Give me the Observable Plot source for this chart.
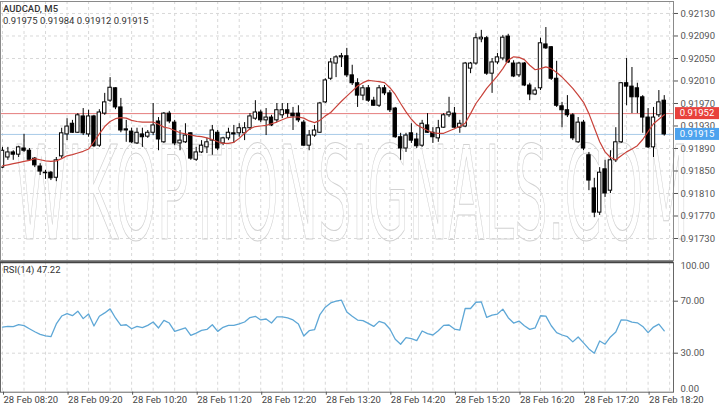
<!DOCTYPE html>
<html><head><meta charset="utf-8">
<script src="https://cdn.jsdelivr.net/npm/d3@7"></script>
<script src="https://cdn.jsdelivr.net/npm/@observablehq/plot@0.6"></script>
<style>
body{margin:0;background:#fff;}
#wrap{position:relative;width:720px;height:405px;overflow:hidden;font-family:Roboto,sans-serif;background:#fff;}
.lbl{position:absolute;left:3px;font-size:9.5px;color:#333;white-space:nowrap;line-height:1;}
</style></head><body>
<div id="wrap">
 <div id="main" style="position:absolute;left:0;top:0"></div>
 <div id="rsi" style="position:absolute;left:0;top:261px"></div>
 <div class="lbl" style="top:4px;font-weight:500">AUDCAD, M5</div>
 <div class="lbl" style="top:16px;">0.91975 0.91984 0.91912 0.91915</div>
 <div class="lbl" style="top:265px;">RSI(14) 47.22</div>
</div>
<script>
const day = "2024-02-28";
const firstCandle = "08:20";
const open = [0.91856,0.91874,0.91883,0.91879,0.91890,0.91886,0.91872,0.91858,0.91847,0.91847,
0.91838,0.91876,0.91915,0.91934,0.91918,0.91947,0.91915,0.91947,0.91895,0.91952,
0.91975,0.91997,0.91963,0.91924,0.91920,0.91899,0.91915,0.91911,0.91918,0.91938,
0.91901,0.91952,0.91936,0.91899,0.91901,0.91917,0.91870,0.91883,0.91892,0.91904,
0.91918,0.91899,0.91908,0.91917,0.91917,0.91917,0.91926,0.91943,0.91954,0.91940,
0.91945,0.91940,0.91949,0.91958,0.91952,0.91952,0.91936,0.91895,0.91913,0.91918,
0.91972,0.92014,0.92041,0.92052,0.92054,0.92020,0.92006,0.91984,0.91997,0.91975,
0.91966,0.91997,0.91988,0.91961,0.91910,0.91890,0.91917,0.91906,0.91895,0.91931,
0.91918,0.91908,0.91927,0.91949,0.91952,0.91927,0.91929,0.92032,0.92041,0.92084,
0.92086,0.92023,0.92043,0.92050,0.92089,0.92041,0.92020,0.92041,0.92002,0.91986,
0.91997,0.92075,0.92070,0.92014,0.91965,0.91958,0.91949,0.91901,0.91936,0.91878,
0.91819,0.91776,0.91853,0.91815,0.91869,0.91901,0.92006,0.92000,0.91997,0.91981,
0.91945,0.91892,0.91949,0.91975];
const high = [0.91892,0.91892,0.91886,0.91894,0.91915,0.91890,0.91874,0.91863,0.91851,0.91849,
0.91874,0.91926,0.91943,0.91940,0.91952,0.91961,0.91958,0.91949,0.91959,0.91988,
0.92016,0.91998,0.91979,0.91940,0.91926,0.91926,0.91926,0.91922,0.91970,0.91945,
0.91954,0.91956,0.91940,0.91922,0.91934,0.91918,0.91892,0.91904,0.91908,0.91931,
0.91922,0.91910,0.91926,0.91931,0.91934,0.91936,0.91952,0.91975,0.91958,0.91961,
0.91949,0.91970,0.91970,0.91970,0.91963,0.91966,0.91940,0.91922,0.91931,0.91972,
0.92014,0.92050,0.92055,0.92059,0.92068,0.92038,0.92014,0.92002,0.92002,0.91981,
0.92002,0.92002,0.91993,0.91963,0.91917,0.91917,0.91934,0.91917,0.91940,0.91952,
0.91927,0.91940,0.91952,0.91981,0.91963,0.91940,0.92043,0.92043,0.92094,0.92100,
0.92089,0.92050,0.92059,0.92091,0.92093,0.92046,0.92043,0.92043,0.92006,0.91998,
0.92086,0.92105,0.92071,0.92045,0.91972,0.91984,0.91952,0.91945,0.91940,0.91883,
0.91837,0.91856,0.91869,0.91886,0.91927,0.92007,0.92050,0.92034,0.92006,0.91984,
0.91961,0.91963,0.91993,0.91984];
const low = [0.91854,0.91869,0.91869,0.91874,0.91883,0.91869,0.91856,0.91842,0.91835,0.91833,
0.91831,0.91872,0.91904,0.91917,0.91917,0.91913,0.91910,0.91892,0.91892,0.91949,
0.91972,0.91959,0.91918,0.91901,0.91899,0.91897,0.91892,0.91908,0.91913,0.91886,
0.91899,0.91934,0.91895,0.91886,0.91899,0.91869,0.91867,0.91881,0.91881,0.91878,
0.91886,0.91895,0.91904,0.91899,0.91910,0.91904,0.91922,0.91940,0.91936,0.91913,
0.91929,0.91936,0.91943,0.91945,0.91922,0.91936,0.91894,0.91886,0.91910,0.91917,
0.91970,0.92011,0.92016,0.92034,0.92016,0.92002,0.91963,0.91975,0.91972,0.91965,
0.91963,0.91984,0.91954,0.91908,0.91869,0.91883,0.91899,0.91890,0.91892,0.91917,
0.91899,0.91901,0.91926,0.91945,0.91926,0.91917,0.91927,0.92023,0.92038,0.92078,
0.92020,0.91988,0.92039,0.92046,0.92041,0.92016,0.92016,0.92000,0.91975,0.91984,
0.91993,0.92066,0.92011,0.91963,0.91927,0.91945,0.91904,0.91899,0.91886,0.91815,
0.91767,0.91771,0.91803,0.91810,0.91865,0.91899,0.91966,0.91952,0.91952,0.91917,
0.91890,0.91874,0.91945,0.91912];
const close = [0.91886,0.91883,0.91879,0.91892,0.91886,0.91870,0.91860,0.91849,0.91846,0.91837,
0.91869,0.91917,0.91929,0.91918,0.91949,0.91917,0.91947,0.91894,0.91954,0.91972,
0.91998,0.91963,0.91922,0.91922,0.91901,0.91918,0.91910,0.91918,0.91931,0.91906,
0.91952,0.91938,0.91899,0.91904,0.91913,0.91872,0.91883,0.91895,0.91901,0.91922,
0.91890,0.91908,0.91918,0.91915,0.91926,0.91926,0.91947,0.91954,0.91940,0.91945,
0.91931,0.91958,0.91958,0.91952,0.91947,0.91940,0.91895,0.91913,0.91922,0.91970,
0.92011,0.92043,0.92052,0.92054,0.92020,0.92006,0.91984,0.91997,0.91975,0.91966,
0.91997,0.91988,0.91958,0.91910,0.91890,0.91913,0.91904,0.91894,0.91934,0.91918,
0.91910,0.91926,0.91949,0.91954,0.91927,0.91934,0.92041,0.92041,0.92086,0.92087,
0.92023,0.92043,0.92052,0.92087,0.92043,0.92018,0.92041,0.92002,0.91986,0.91993,
0.92077,0.92068,0.92014,0.91966,0.91958,0.91949,0.91908,0.91936,0.91890,0.91833,
0.91776,0.91847,0.91810,0.91869,0.91901,0.92006,0.92000,0.91981,0.91981,0.91945,
0.91892,0.91945,0.91972,0.91915];
const ma = [0.91859,0.91861,0.91863,0.91865,0.91867,0.91869,0.91872,0.91870,0.91868,0.91867,
0.91868,0.91872,0.91877,0.91879,0.91882,0.91885,0.91889,0.91902,0.91916,0.91929,
0.91938,0.91943,0.91945,0.91944,0.91940,0.91938,0.91937,0.91937,0.91937,0.91933,
0.91928,0.91926,0.91922,0.91918,0.91916,0.91914,0.91912,0.91911,0.91909,0.91906,
0.91902,0.91899,0.91899,0.91901,0.91908,0.91917,0.91925,0.91929,0.91930,0.91931,
0.91934,0.91937,0.91941,0.91945,0.91946,0.91946,0.91944,0.91939,0.91936,0.91940,
0.91948,0.91954,0.91964,0.91974,0.91983,0.91992,0.92001,0.92007,0.92011,0.92010,
0.92009,0.92007,0.91998,0.91986,0.91970,0.91955,0.91942,0.91932,0.91927,0.91922,
0.91918,0.91917,0.91917,0.91921,0.91925,0.91929,0.91935,0.91952,0.91970,0.91983,
0.91997,0.92008,0.92019,0.92032,0.92047,0.92053,0.92052,0.92048,0.92038,0.92030,
0.92032,0.92035,0.92032,0.92025,0.92017,0.92007,0.91997,0.91985,0.91972,0.91952,
0.91927,0.91902,0.91884,0.91874,0.91870,0.91877,0.91884,0.91889,0.91895,0.91906,
0.91920,0.91934,0.91942,0.91950];
const rsi = [50.1,50.6,50.4,51.9,51.2,48.8,46.5,44.5,43.4,42.7,
52.5,58.6,60.5,58.9,62.3,56.6,60.2,50.9,58.4,61.0,
64.1,57.1,51.4,51.9,48.8,50.6,49.6,51.4,54.0,49.4,
55.3,53.2,46.8,48.1,49.4,43.7,45.5,47.6,48.3,51.9,
46.8,49.9,51.4,51.4,52.5,54.0,57.4,58.4,55.6,56.3,
53.2,57.9,57.9,57.1,55.6,52.5,43.2,47.3,48.1,59.7,
65.4,68.7,70.0,70.8,61.7,58.4,55.5,55.0,52.9,50.6,
54.5,53.2,48.6,40.7,36.9,42.0,41.2,39.7,47.1,45.0,
44.0,47.3,51.4,51.7,48.6,47.8,64.4,64.4,69.2,69.5,
57.5,59.3,60.1,63.9,57.3,53.2,54.7,51.1,48.3,49.4,
58.8,58.5,51.1,45.8,44.0,42.7,38.7,42.5,37.9,33.3,
30.0,39.4,36.9,42.5,46.3,55.7,55.5,53.9,53.4,50.6,
45.8,50.1,52.4,47.22];
const priceTicks = [0.92130,0.92090,0.92050,0.92010,0.91970,0.91930,0.91890,0.91850,0.91810,0.91770,0.91730];
const hourTicks = ["08:20","09:20","10:20","11:20","12:20","13:20","14:20","15:20","16:20","17:20","18:20"];
const rsiTicks = [70, 30];
const rsiEnds = [100, 0];
const askPrice = 0.91952, bidPrice = 0.91915;
const watermark = "WIKOPTIONSIGNALS.COM";

const toDate = s => new Date(`${day}T${s}:00Z`);
const t0 = +toDate(firstCandle);
const M = 60000;
const candles = open.map((o, i) => ({t: new Date(t0 + i * 5 * M), o, h: high[i], l: low[i], c: close[i], ma: ma[i], rsi: rsi[i]}));
const xDomain = [new Date(t0 - 1.86 * M), new Date(t0 + 623.6 * M)];
const gridTimes = d3.utcMinute.every(20).range(new Date(t0), xDomain[1]);
const hourDates = hourTicks.map(toDate);
const grid = {stroke: "#d8d8d8", strokeDasharray: "3,3"};
const fmtT = d3.utcFormat("%H:%M");
const half = 95000;

const main = Plot.plot({
  width: 720, height: 261, marginLeft: 0, marginRight: 47, marginTop: 1, marginBottom: 1,
  style: {fontFamily: "Roboto", fontSize: "9.5px", color: "#555", background: "transparent", overflow: "visible"},
  x: {type: "utc", domain: xDomain, axis: null},
  y: {domain: [0.916909, 0.921513]},
  marks: [
    Plot.ruleY(priceTicks, grid),
    Plot.ruleX(gridTimes, grid),
    Plot.text([watermark], {text: d => d, frameAnchor: "middle", dx: 15, dy: 66, fontSize: 130, fontFamily: "DejaVu Sans", fill: "none", stroke: "#d2d2d2", strokeWidth: 1.1}),
    Plot.ruleY([askPrice], {stroke: "#e57c7c"}),
    Plot.ruleY([bidPrice], {stroke: "#a8cbe8"}),
    Plot.ruleX(candles, {x: "t", y1: "l", y2: "h", stroke: "#000", strokeWidth: 1}),
    Plot.rect(candles.filter(d => d.c >= d.o), {x1: d => new Date(+d.t - half), x2: d => new Date(+d.t + half), y1: "o", y2: "c", fill: "#fff", stroke: "#000", strokeWidth: 1}),
    Plot.rect(candles.filter(d => d.c < d.o), {x1: d => new Date(+d.t - half), x2: d => new Date(+d.t + half), y1: "o", y2: "c", fill: "#000", stroke: "#000", strokeWidth: 1}),
    Plot.line(candles, {x: "t", y: "ma", stroke: "#c8423a", strokeWidth: 1.2}),
    Plot.frame({stroke: "#8a8a8a"}),
    Plot.axisY(priceTicks, {anchor: "right", tickSize: 4, tickPadding: 3, tickFormat: d => d.toFixed(5), label: null, fill: "#555"})
  ]
});
document.getElementById("main").appendChild(main);
const msvg = d3.select(main);
msvg.selectAll('g[aria-label="text"] text').attr("textLength", 674).attr("lengthAdjust", "spacingAndGlyphs");
const ys = main.scale("y");
[[askPrice, "#e8413c"], [bidPrice, "#4da3ee"]].forEach(([v, col]) => {
  const y = ys.apply(v);
  const g = msvg.append("g");
  g.append("rect").attr("x", 675).attr("y", y - 6).attr("width", 44).attr("height", 12).attr("fill", col);
  g.append("text").attr("x", 697).attr("y", y).attr("dy", "0.35em").attr("text-anchor", "middle").attr("fill", "#fff")
    .attr("font-size", 9.5).attr("font-family", "Roboto").text(v.toFixed(5));
});

const rsiPlot = Plot.plot({
  width: 720, height: 144, marginLeft: 0, marginRight: 47, marginTop: 0.7, marginBottom: 13.3,
  style: {fontFamily: "Roboto", fontSize: "9.5px", color: "#555", background: "transparent", overflow: "visible"},
  x: {type: "utc", domain: xDomain},
  y: {domain: [0, 100]},
  marks: [
    Plot.ruleY(rsiTicks, grid),
    Plot.ruleX(gridTimes, grid),
    Plot.line(candles, {x: "t", y: "rsi", stroke: "#5ea7d6", strokeWidth: 1.3}),
    Plot.frame({stroke: "#666"}),
    Plot.ruleY([100], {stroke: "#444", strokeWidth: 2}),
    Plot.axisY(rsiTicks, {anchor: "right", tickSize: 4, tickPadding: 3, tickFormat: d => d.toFixed(2), label: null, fill: "#555"}),
    Plot.text(rsiEnds.slice(0, 1), {y: d => d, text: d => d.toFixed(2), frameAnchor: "right", dx: 7, textAnchor: "start", lineAnchor: "top", fill: "#555"}),
    Plot.text(rsiEnds.slice(1), {y: d => d, text: d => d.toFixed(2), frameAnchor: "right", dx: 7, textAnchor: "start", lineAnchor: "bottom", fill: "#555"}),
    Plot.axisX(hourDates, {anchor: "bottom", tickSize: 3, tickPadding: 1, textAnchor: "start", dx: 1, tickFormat: d => "28 Feb " + fmtT(d), label: null, fill: "#444"})
  ]
});
document.getElementById("rsi").appendChild(rsiPlot);
</script>
</body></html>
